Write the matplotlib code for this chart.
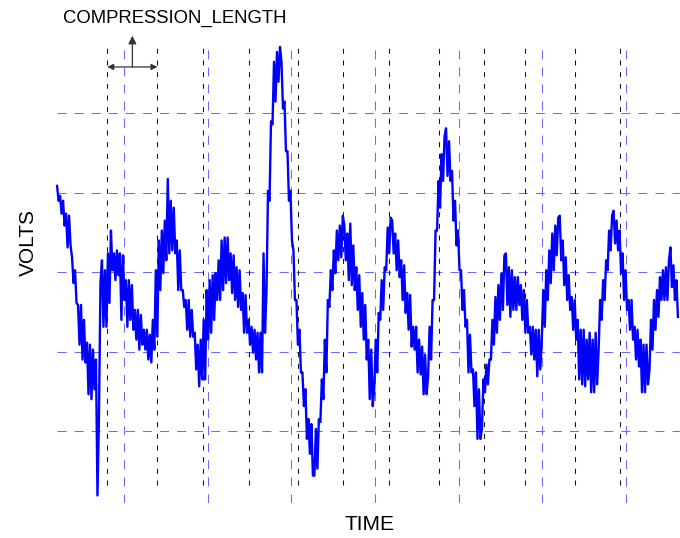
import numpy as np
import matplotlib
matplotlib.use("Agg")
import matplotlib.pyplot as plt
from matplotlib import transforms

plt.rcParams['font.family'] = ['Liberation Sans', 'DejaVu Sans']
plt.rcParams['lines.scale_dashes'] = False

# Sampled waveform (mV), uniformly spaced in time
volts_mv = [
    87, 72, 77, 59, 72, 47, 59, 25, 57, 27, 15, -11, 2, -31, -33, -73, -33, -88, -48, -91,
    -71, -123, -73, -128, -78, -118, -88, -225, -145, -11, 12, -55, 2, -55, 19, -31, 42, 2, 19, -8,
    22, -3, 19, -48, 17, -28, -8, -55, -8, -48, -13, -58, -38, -68, -38, -78, -43, -73, -58, -78,
    -58, -88, -63, -91, -48, -78, 2, -65, 32, -18, 42, -1, 52, 12, 94, 19, 72, 22, 65, 19,
    32, -18, 22, -18, -18, -35, -28, -58, -28, -65, -38, -65, -61, -98, -73, -115, -68, -108, -48, -108,
    -18, -68, -8, -61, -3, -48, -1, -28, 12, -28, 32, -18, 35, -11, 35, -8, 19, -21, 17, -28,
    5, -35, 2, -38, -21, -61, -23, -61, -48, -73, -55, -81, -58, -88, -61, -101, -61, -101, 19, -61,
    -18, 82, 72, 152, 149, 212, 172, 222, 192, 227, 212, 165, 172, 122, 122, 72, 82, 32, 22, -28,
    -28, -73, -58, -101, -101, -135, -118, -168, -148, -183, -153, -205, -205, -158, -198, -148, -151, -108, -128, -68,
    -101, -28, -35, 2, -18, 22, -1, 42, 12, 47, 15, 57, 47, 12, 39, -8, 49, -13, 27, -18,
    5, -38, -3, -55, -21, -68, -33, -88, -68, -128, -78, -135, -118, -68, -101, -41, -48, -8, -38, 5,
    2, 45, 19, 55, 52, 19, 39, 2, 32, -5, 12, -28, 7, -41, -21, -58, -23, -75, -55, -78,
    -55, -101, -68, -103, -75, -123, -83, -123, -105, -55, -88, -28, -28, 42, 42, 92, 65, 119, 92, 137,
    145, 97, 132, 92, 102, 52, 72, 27, 42, 2, 2, -38, -18, -55, -48, -101, -63, -101, -98, -135,
    -101, -168, -118, -168, -158, -108, -121, -93, -113, -88, -88, -48, -73, -25, -61, -13, -48, -1, -38, 17,
    19, -33, 5, -45, 2, -38, -5, -38, -5, -33, -13, -48, -18, -61, -28, -61, -55, -83, -55, -88,
    -58, -105, -58, -98, -68, -18, -55, 2, -28, 22, -11, 39, 2, 47, 17, 55, 57, 12, 32, -13,
    15, -28, -3, -38, -25, -58, -28, -68, -48, -108, -58, -113, -58, -115, -68, -108, -61, -121, -68, -121,
    -61, -113, -78, -28, -48, -8, -28, 12, 2, 42, 22, 57, 62, 29, 52, 22, 42, -1, 19, -28,
    2, -38, -28, -58, -28, -68, -55, -88, -58, -95, -68, -121, -73, -121, -73, -113, -98, -48, -78, -28,
    -58, -18, -45, -5, -28, 2, -28, 5, -28, 12, 25, -15, 7, -28, -8, -45,
]
t_start = 0.2          # ms
dt = 0.01788           # ms per sample

# Compression segment boundaries (ms)
boundaries = [0.80, 1.40, 1.94, 2.49, 3.08, 3.62, 4.17, 4.76, 5.30, 5.79, 6.39, 6.93]
boundary_low, boundary_high = -214, 230

# Grid ticks
time_ticks = [1, 2, 3, 4, 5, 6, 7]
volt_ticks = [-160, -80, 0, 80, 160]

t = t_start + dt * np.arange(len(volts_mv))

fig = plt.figure(figsize=(6.8, 5.38), dpi=100)
ax = fig.add_axes([57 / 680, 1 - 503 / 538, 1 - 57 / 680, 459 / 538])

ax.set_xlim(t_start - 0.001, 7.645)
ax.set_ylim(-232.6, 230)
ax.set_xticks(time_ticks)
ax.set_yticks(volt_ticks)
ax.tick_params(length=0, labelbottom=False, labelleft=False)
for s in ax.spines.values():
    s.set_visible(False)

grid_kw = dict(color='#6a6aff', lw=0.75, linestyle=(0, (6.5, 5.8)))
for x in time_ticks:
    ax.axvline(x, **grid_kw, zorder=1)
for y in volt_ticks:
    ax.axhline(y, **grid_kw, zorder=1)

ax.vlines(boundaries, boundary_low, boundary_high, colors='#111111',
          lw=0.75, linestyles=[(0, (3.6, 4.8))], zorder=2)

ax.plot(t, volts_mv, color='#0000ff', lw=1.7, zorder=3, clip_on=False)

# Compression length marker between first two boundaries
trans = transforms.blended_transform_factory(ax.transData, ax.transAxes)
y_arrow = 0.950
ax.annotate('', xy=(boundaries[1], y_arrow), xytext=(boundaries[0], y_arrow),
            xycoords=trans, textcoords=trans,
            arrowprops=dict(arrowstyle='<|-|>', color='#333333', lw=0.9,
                            mutation_scale=9, shrinkA=0, shrinkB=0),
            annotation_clip=False)
mid = 0.5 * (boundaries[0] + boundaries[1])
ax.annotate('', xy=(mid, 1.018), xytext=(mid, y_arrow),
            xycoords=trans, textcoords=trans,
            arrowprops=dict(arrowstyle='-|>', color='#333333', lw=0.9,
                            mutation_scale=12, shrinkA=0, shrinkB=0),
            annotation_clip=False)

fig.text(63 / 680, 1 - 18 / 538, 'COMPRESSION_LENGTH', fontsize=13.3,
         ha='left', va='center')
fig.text(28 / 680, 1 - 242 / 538, 'VOLTS', fontsize=15, rotation=90,
         ha='center', va='center')
fig.text(370 / 680, 1 - 524 / 538, 'TIME', fontsize=15,
         ha='center', va='center')

fig.savefig('out.png', dpi=100)
